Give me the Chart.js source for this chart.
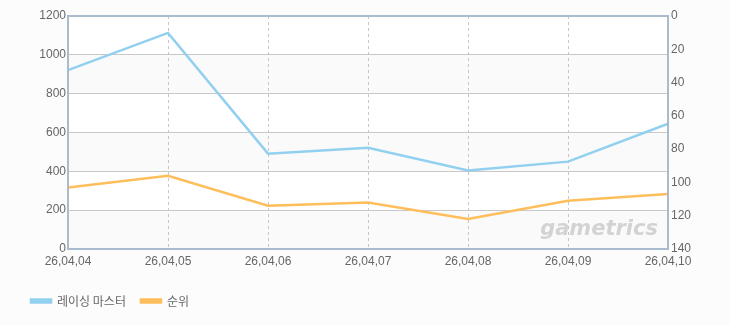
<!DOCTYPE html>
<html>
<head>
<meta charset="utf-8">
<script src="https://cdn.jsdelivr.net/npm/chart.js@4.4.1/dist/chart.umd.min.js"></script>
<style>
  html, body { margin: 0; padding: 0; background: #fcfcfc; }
  #wrap { width: 730px; height: 325px; position: relative; }
</style>
</head>
<body>
<div id="wrap"><canvas id="lineChart"></canvas></div>
<script>
// chart data
const dates = ["26,04,04", "26,04,05", "26,04,06", "26,04,07", "26,04,08", "26,04,09", "26,04,10"];
const racingMaster = [921, 1113, 491, 521, 404, 450, 645];
const rank = [103, 96, 114, 112, 122, 111, 107];
const leftTicks = [0, 200, 400, 600, 800, 1000, 1200];
const rightTicks = [0, 20, 40, 60, 80, 100, 120, 140];

const tickFont = { family: "'Liberation Sans', Arial, sans-serif", size: 12 };
const frameColor = "#a9bbcf";

// alternating bands + watermark under everything, frame on top
const framePlugin = {
    id: "frame",
    beforeDraw(chart) {
        const { ctx, chartArea: a, scales } = chart;
        ctx.save();
        ctx.fillStyle = "#ffffff";
        ctx.fillRect(a.left, a.top, a.right - a.left, a.bottom - a.top);
        for (let i = 0; i < leftTicks.length - 1; i += 2) {
            const y1 = scales.y.getPixelForValue(leftTicks[i]);
            const y2 = scales.y.getPixelForValue(leftTicks[i + 1]);
            ctx.fillStyle = "#fafafa";
            ctx.fillRect(a.left, y2, a.right - a.left, y1 - y2);
        }
        ctx.font = "italic bold 21px 'DejaVu Sans', sans-serif";
        ctx.fillStyle = "rgba(185,185,185,0.6)";
        ctx.textAlign = "right";
        ctx.textBaseline = "alphabetic";
        ctx.fillText("gametrics", a.right - 10, a.bottom - 14);
        ctx.restore();
    },
    afterDraw(chart) {
        const { ctx, chartArea: a } = chart;
        ctx.save();
        ctx.strokeStyle = frameColor;
        ctx.lineWidth = 2;
        ctx.strokeRect(a.left, a.top, a.right - a.left, a.bottom - a.top);
        ctx.restore();
    }
};

const ctx = document.getElementById("lineChart").getContext("2d");
const chart = new Chart(ctx, {
    type: "line",
    data: {
        labels: dates,
        datasets: [
            {
                label: "레이싱 마스터",
                data: racingMaster,
                borderColor: "#92d0f0",
                backgroundColor: "#92d0f0",
                borderWidth: 2.5,
                pointRadius: 0,
                tension: 0,
                yAxisID: "y",
            },
            {
                label: "순위",
                data: rank,
                borderColor: "#ffbe5c",
                backgroundColor: "#ffbe5c",
                borderWidth: 2.5,
                pointRadius: 0,
                tension: 0,
                yAxisID: "y2",
            },
        ],
    },
    options: {
        responsive: true,
        maintainAspectRatio: false,
        animation: false,
        layout: { padding: { left: 16, top: 16, right: 0, bottom: 8 } },
        scales: {
            x: {
                offset: false,
                grid: { color: "#c6c6c6", drawTicks: false },
                border: { display: true, color: frameColor, width: 2, dash: [3, 3] },
                ticks: { color: "#666", font: tickFont, padding: 5, maxRotation: 0, autoSkip: false },
                afterFit(scale) { scale.height = 31; },
            },
            y: {
                position: "left",
                min: 0,
                max: 1200,
                afterBuildTicks(scale) { scale.ticks = leftTicks.map(v => ({ value: v })); },
                grid: { color: "#c8c8c8", drawTicks: false },
                border: { color: frameColor, width: 2 },
                ticks: { color: "#666", font: tickFont, padding: 2, callback: v => String(v) },
                afterFit(scale) { scale.width = 52; },
            },
            y2: {
                position: "right",
                reverse: true,
                min: 0,
                max: 140,
                afterBuildTicks(scale) { scale.ticks = rightTicks.map(v => ({ value: v })); },
                grid: { display: false, drawTicks: false },
                border: { color: frameColor, width: 2 },
                ticks: { color: "#666", font: tickFont, padding: 3, callback: v => String(v) },
                afterFit(scale) { scale.width = 62; },
            },
        },
        plugins: {
            legend: {
                position: "bottom",
                align: "start",
                labels: {
                    boxWidth: 20,
                    boxHeight: 3,
                    padding: 15,
                    color: "#666",
                    font: { family: "'Noto Sans CJK KR', sans-serif", size: 12 },
                },
            },
            tooltip: { enabled: false },
        },
    },
    plugins: [framePlugin],
});
</script>
</body>
</html>
